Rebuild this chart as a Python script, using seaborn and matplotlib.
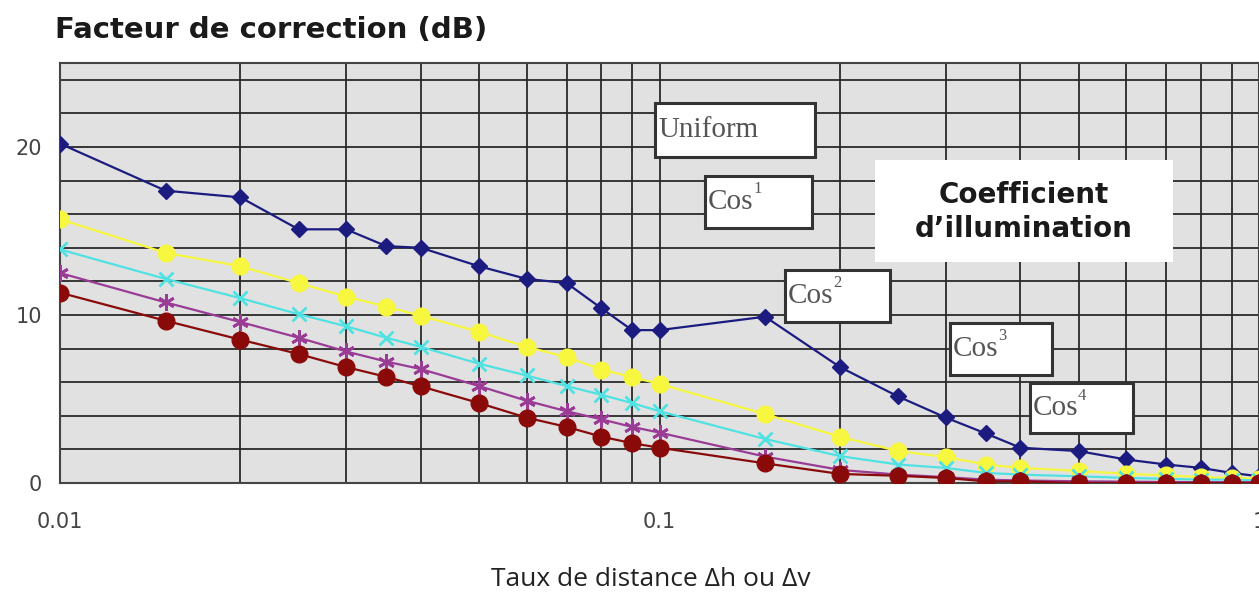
import numpy as np
import pandas as pd
import seaborn as sns
import matplotlib.pyplot as plt
from matplotlib.patches import Rectangle

# distance ratio (log axis)
ratio = [0.01, 0.015, 0.02, 0.025, 0.03, 0.035, 0.04, 0.05, 0.06, 0.07, 0.08, 0.09, 0.1,
         0.15, 0.2, 0.25, 0.3, 0.35, 0.4, 0.5, 0.6, 0.7, 0.8, 0.9, 1.0]

uniform = [20.2, 17.4, 17.0, 15.1, 15.1, 14.1, 14.0, 12.9, 12.15, 11.9, 10.4, 9.1, 9.1,
           9.9, 6.9, 5.15, 3.9, 2.95, 2.1, 1.9, 1.4, 1.1, 0.9, 0.6, 0.4]
cos1 = [15.7, 13.7, 12.9, 11.9, 11.1, 10.5, 9.95, 9.0, 8.1, 7.5, 6.75, 6.3, 5.9,
        4.1, 2.75, 1.9, 1.55, 1.1, 0.9, 0.72, 0.55, 0.45, 0.35, 0.3, 0.25]
cos2 = [13.9, 12.15, 11.0, 10.05, 9.33, 8.65, 8.1, 7.1, 6.4, 5.77, 5.25, 4.76, 4.27,
        2.62, 1.6, 1.1, 0.9, 0.6, 0.5, 0.4, 0.3, 0.25, 0.2, 0.2, 0.15]
cos3 = [12.5, 10.75, 9.58, 8.65, 7.83, 7.23, 6.78, 5.77, 4.9, 4.27, 3.79, 3.34, 3.0,
        1.57, 0.78, 0.5, 0.35, 0.2, 0.15, 0.1, 0.08, 0.06, 0.05, 0.05, 0.05]
cos4 = [11.33, 9.66, 8.53, 7.68, 6.9, 6.32, 5.75, 4.76, 3.89, 3.34, 2.76, 2.37, 2.1,
        1.17, 0.54, 0.43, 0.3, 0.1, 0.1, 0.0, 0.0, 0.0, 0.0, 0.0, 0.0]

y_ticks = [0, 10, 20]
x_ticks = [0.01, 0.1, 1]
x_tick_labels = ["0.01", "0.1", "1"]

series = [
    ("Uniform", uniform, "#1c1c80", "D", 8, 1.0),
    ("Cos1", cos1, "#f7f740", "o", 12, 1.0),
    ("Cos2", cos2, "#50e2e2", "x", 10, 2.0),
    ("Cos3", cos3, "#9a3c96", (6, 2, 0), 12, 2.0),
    ("Cos4", cos4, "#8a0a0a", "o", 12, 1.0),
]

sns.set_style("white")

W, H = 1259, 592
fig = plt.figure(figsize=(12.59, 5.92), dpi=100)
ax = fig.add_axes([60 / W, 1 - 483 / H, 1 - 60 / W, (483 - 63) / H])
ax.set_facecolor("#e1e1e1")

for name, vals, col, mk, ms, mew in series:
    df = pd.DataFrame({"ratio": ratio, "db": vals})
    sns.lineplot(data=df, x="ratio", y="db", ax=ax, color=col, marker=mk, markersize=ms,
                 markeredgecolor=col, markeredgewidth=mew, linewidth=1.6, zorder=3)

ax.set_xscale("log")
ax.set_xlim(0.01, 1.0)
ax.set_ylim(0, 25)

ax.set_yticks(np.arange(0, 25, 2), minor=True)
ax.set_yticks(y_ticks)
ax.set_yticklabels([str(v) for v in y_ticks])
ax.set_xticks(x_ticks)
ax.set_xticklabels(x_tick_labels)
ax.grid(True, which="both", color="#2a2a2a", linewidth=1.3)
ax.set_axisbelow(True)
ax.tick_params(axis="x", which="major", length=7, color="#444", labelsize=15,
               labelcolor="#444", pad=14)
ax.tick_params(axis="y", which="major", length=6, color="#444", labelsize=15,
               labelcolor="#444", pad=7)
ax.tick_params(axis="both", which="minor", length=0)
for s in ax.spines.values():
    s.set_color("#444")
    s.set_linewidth(1.5)
ax.set_xlabel("")
ax.set_ylabel("")

fig.text(651 / W, 1 - 579 / H, "Taux de distance Δh ou Δv", fontsize=19, color="#222",
         family=["Open Sans", "DejaVu Sans"], ha="center", va="center")

fig.text(55 / W, 1 - 30 / H, "Facteur de correction (dB)", fontsize=21, fontweight="bold",
         color="#1a1a1a", ha="left", va="center")

# labelled boxes: (x0, y0, x1, y1) in pixels, text, superscript
boxes = [
    (655, 103, 815, 157, "Uniform", ""),
    (705, 176, 812, 228, "Cos", "1"),
    (785, 270, 890, 322, "Cos", "2"),
    (950, 323, 1052, 375, "Cos", "3"),
    (1030, 383, 1133, 433, "Cos", "4"),
]
for x0, y0, x1, y1, txt, sup in boxes:
    fig.patches.append(Rectangle((x0 / W, 1 - y1 / H), (x1 - x0) / W, (y1 - y0) / H,
                                 transform=fig.transFigure, facecolor="white",
                                 edgecolor="#333", linewidth=2.2, zorder=5))
    fig.text((x0 + 3) / W, 1 - (y0 + y1) / 2 / H, txt, fontsize=21, family="Liberation Serif",
             color="#555", ha="left", va="center", zorder=6)
    if sup:
        fig.text((x0 + 48) / W, 1 - (y0 + 5) / H, sup, fontsize=12,
                 family="Liberation Serif", color="#555", ha="left", va="top", zorder=6)

fig.patches.append(Rectangle((875 / W, 1 - 262 / H), 298 / W, 102 / H,
                             transform=fig.transFigure, facecolor="white",
                             edgecolor="none", zorder=5))
fig.text(1024 / W, 1 - 212 / H, "Coefficient\nd\u2019illumination", fontsize=20,
         fontweight="bold", color="#1a1a1a", ha="center", va="center", linespacing=1.3,
         zorder=6)

fig.savefig("out.png", dpi=100, facecolor="white")
